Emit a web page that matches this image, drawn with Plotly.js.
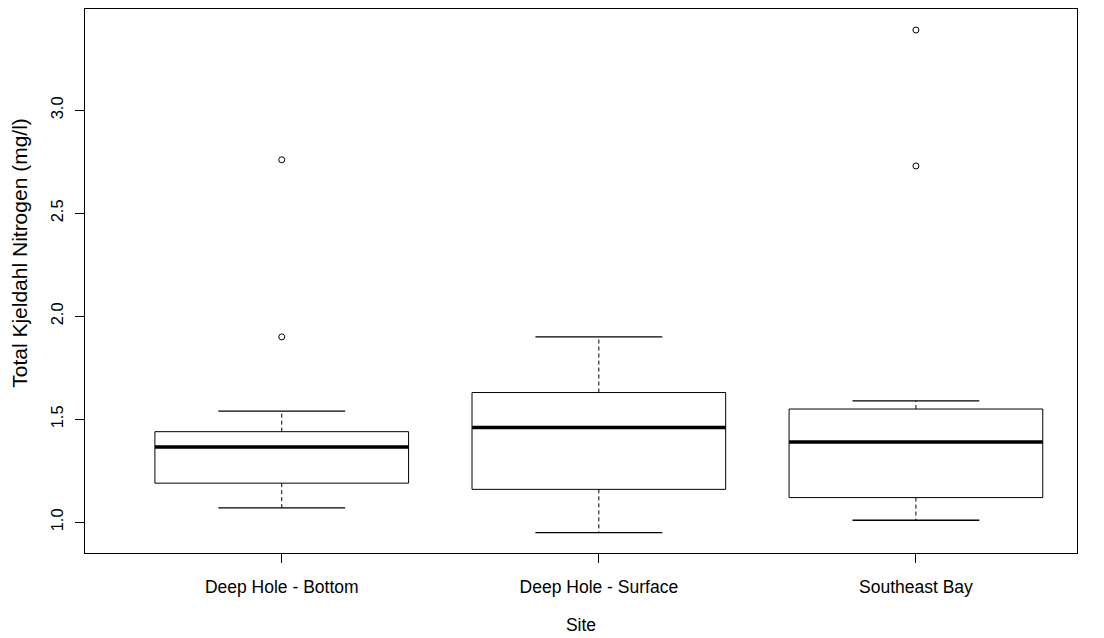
<!DOCTYPE html>
<html>
<head>
<meta charset="utf-8">
<script src="https://cdn.plot.ly/plotly-3.0.1.min.js"></script>
<style>
  html, body { margin: 0; padding: 0; background: #fff; }
  #chart { width: 1104px; height: 638px; }
</style>
</head>
<body>
<div id="chart"></div>
<script>
// Total Kjeldahl Nitrogen by sampling site (boxplot statistics)
const sites = ['Deep Hole - Bottom', 'Deep Hole - Surface', 'Southeast Bay'];
const lowerWhisker = [1.07, 0.95, 1.01];
const q1 = [1.19, 1.16, 1.12];
const medians = [1.365, 1.46, 1.39];
const q3 = [1.44, 1.63, 1.55];
const upperWhisker = [1.54, 1.90, 1.59];
const outlierSite = [1, 1, 3, 3];
const outlierValue = [1.90, 2.76, 2.73, 3.39];

const positions = sites.map((_, i) => i + 1);
const boxHalf = 0.4;   // half box width in category units
const capHalf = 0.2;   // half staple width

const boxX = [], boxY = [];
const medX = [], medY = [];
const whiskX = [], whiskY = [];
const capX = [], capY = [];

positions.forEach((p, i) => {
  boxX.push(p - boxHalf, p + boxHalf, p + boxHalf, p - boxHalf, p - boxHalf, null);
  boxY.push(q1[i], q1[i], q3[i], q3[i], q1[i], null);
  medX.push(p - boxHalf, p + boxHalf, null);
  medY.push(medians[i], medians[i], null);
  whiskX.push(p, p, null, p, p, null);
  whiskY.push(q1[i], lowerWhisker[i], null, q3[i], upperWhisker[i], null);
  capX.push(p - capHalf, p + capHalf, null, p - capHalf, p + capHalf, null);
  capY.push(lowerWhisker[i], lowerWhisker[i], null, upperWhisker[i], upperWhisker[i], null);
});

const common = { type: 'scatter', mode: 'lines', hoverinfo: 'skip', showlegend: false };

const traces = [
  Object.assign({}, common, { x: whiskX, y: whiskY, line: { color: '#000', width: 1, dash: '4px,3px' } }),
  Object.assign({}, common, { x: capX, y: capY, line: { color: '#000', width: 1.3 } }),
  Object.assign({}, common, { x: boxX, y: boxY, line: { color: '#000', width: 1 } }),
  Object.assign({}, common, { x: medX, y: medY, line: { color: '#000', width: 3.5 } }),
  { type: 'scatter', mode: 'markers', x: outlierSite, y: outlierValue, showlegend: false,
    marker: { symbol: 'circle-open', size: 6, color: '#000', line: { width: 1, color: '#000' } } }
];

const family = 'Liberation Sans, Arial, sans-serif';
const xLabelFont = { family: family, size: 17.5, color: '#000' };
const yTickFont = { family: family, size: 16.5, color: '#000' };
const yTitleFont = { family: family, size: 21, color: '#000' };

const layout = {
  width: 1104, height: 638,
  margin: { l: 85, r: 27, t: 9, b: 85 },
  paper_bgcolor: '#fff', plot_bgcolor: '#fff',
  font: xLabelFont,
  xaxis: {
    range: [0.3795, 3.508],
    tickmode: 'array', tickvals: positions, ticktext: sites,
    ticks: 'outside', ticklen: 9, tickcolor: '#000', tickwidth: 1,
    showline: true, linecolor: '#000', linewidth: 1, mirror: true,
    showgrid: false, zeroline: false,
    tickfont: xLabelFont, ticklabelstandoff: 9,
    title: { text: 'Site', font: xLabelFont, standoff: 22 }
  },
  yaxis: {
    range: [0.851, 3.492],
    tickmode: 'linear', tick0: 1.0, dtick: 0.5, tickformat: '.1f',
    ticks: 'outside', ticklen: 9, tickcolor: '#000', tickwidth: 1,
    tickangle: -90, ticklabelstandoff: 5,
    showline: true, linecolor: '#000', linewidth: 1, mirror: true,
    showgrid: false, zeroline: false,
    tickfont: yTickFont
  },
  // vertical axis label, set beside the tick labels
  annotations: [{
    text: 'Total Kjeldahl Nitrogen (mg/l)',
    xref: 'paper', yref: 'paper',
    x: -0.066, y: 0.551,
    xanchor: 'center', yanchor: 'middle',
    textangle: -90, showarrow: false,
    font: yTitleFont
  }]
};

Plotly.newPlot('chart', traces, layout, { displayModeBar: false, staticPlot: true });
</script>
</body>
</html>
